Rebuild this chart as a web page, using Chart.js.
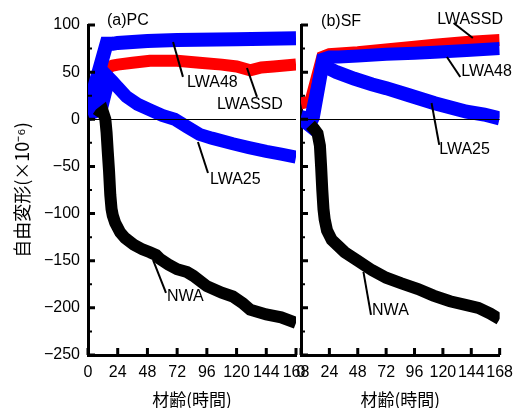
<!DOCTYPE html>
<html>
<head>
<meta charset="utf-8">
<script src="https://cdn.jsdelivr.net/npm/chart.js@4.4.0/dist/chart.umd.min.js"></script>
<style>
  html, body { margin: 0; padding: 0; background: #fff; }
  #wrap { position: relative; width: 521px; height: 408px; }
  #wrap canvas { position: absolute; left: 0; top: 0; }
</style>
</head>
<body>
<div id="wrap">
  <canvas id="pc" width="521" height="408"></canvas>
  <canvas id="sf" width="521" height="408"></canvas>
</div>
<script>
// ---- axis ticks ----
const X_TICKS = [0, 24, 48, 72, 96, 120, 144, 168];
const Y_TICKS = [-250, -200, -150, -100, -50, 0, 50, 100];
const Y_MINOR = [-225, -175, -125, -75, -25, 25, 75];

// ---- (a)PC ----
const pcNwaHours   = [8, 10, 12, 14, 15, 16, 17, 18, 19, 20, 22, 26, 30, 37, 44, 50, 55, 58, 65, 72, 80, 85, 96, 108, 117, 125, 131, 144, 156, 168];
const pcNwa        = [2, 6, 8, 0, -14, -35, -55, -80, -95, -102, -110, -120, -126, -133, -138, -141, -144, -148, -154, -159, -162, -166, -177, -184, -188, -195, -202, -207, -210, -216];
const pcLwa25Hours = [0, 6, 11, 14, 17, 20, 24, 31, 40, 50, 60, 70, 80, 90, 100, 117, 130, 144, 156, 168];
const pcLwa25      = [5, 8, 12, 28, 44, 40, 34, 24, 16, 10, 4, 0, -8, -16, -20, -26, -30, -34, -37, -40];
const pcLwa48Hours = [0, 15, 20, 24, 48, 72, 120, 168];
const pcLwa48      = [10, 80, 80, 81, 83, 84, 85, 86];
const pcSsdHours   = [11, 14, 16, 20, 24, 36, 50, 72, 90, 108, 120, 131, 140, 150, 168];
const pcSsd        = [25, 45, 55, 57, 58, 60, 62, 62, 60, 58, 56, 52, 55, 56, 58];

// ---- (b)SF ----
const sfNwaHours   = [8, 11, 14, 16, 17, 18, 19, 20, 22, 26, 37, 48, 60, 72, 85, 99, 112, 126, 140, 150, 160, 168];
const sfNwa        = [-6, -10, -15, -28, -50, -75, -95, -106, -118, -128, -141, -150, -160, -168, -174, -180, -187, -193, -197, -200, -206, -212];
const sfLwa25Hours = [0, 4, 7, 10, 18, 22, 30, 45, 60, 72, 90, 113, 140, 155, 168];
const sfLwa25      = [3, -3, -6, 2, 58, 55, 50, 43, 37, 33, 26, 17, 8, 5, 1];
const sfLwa48Hours = [0, 6, 9, 19, 24, 32, 48, 72, 96, 113, 140, 168];
const sfLwa48      = [3, 1, 5, 64, 66, 66, 67, 69, 70, 71, 73, 75];
const sfSsdHours   = [0, 8, 18, 24, 48, 72, 96, 113, 140, 168];
const sfSsd        = [17, 19, 66, 69, 71, 74, 77, 79, 82, 84];

const BLUE = '#0000FF', RED = '#FF0000', BLACK = '#000000';
const FONT = '"Liberation Sans", Arial, sans-serif';
const JP_FONT = '"Noto Sans CJK JP", sans-serif';

Chart.defaults.font.family = FONT;
Chart.defaults.font.size = 16;
Chart.defaults.color = '#000';

const toXY = (hours, vals) => hours.map((h, i) => ({ x: h, y: vals[i] }));
const fmtY = v => (v < 0 ? '\u2212' + Math.abs(v) : String(v));

// inward tick marks + zero line
const innerTicks = {
  id: 'innerTicks',
  afterDatasetsDraw(chart) {
    const { ctx, chartArea: a, scales: { x, y } } = chart;
    ctx.save();
    ctx.strokeStyle = '#000';
    ctx.lineWidth = 1;
    ctx.beginPath();
    const z = Math.round(y.getPixelForValue(0)) + 0.5;
    ctx.moveTo(a.left, z);
    ctx.lineTo(a.right, z);
    ctx.stroke();

    ctx.lineWidth = 3;
    ctx.beginPath();
    Y_TICKS.forEach(v => { const p = y.getPixelForValue(v); ctx.moveTo(a.left, p); ctx.lineTo(a.left + 7, p); });
    X_TICKS.forEach(v => { const p = x.getPixelForValue(v); ctx.moveTo(p, a.bottom); ctx.lineTo(p, a.bottom - 7); });
    ctx.stroke();
    ctx.lineWidth = 2;
    ctx.beginPath();
    Y_MINOR.forEach(v => { const p = y.getPixelForValue(v); ctx.moveTo(a.left, p); ctx.lineTo(a.left + 4, p); });
    ctx.stroke();
    ctx.restore();
  },
};

// series names with leader lines, placed in data units
const leaderLabels = {
  id: 'leaderLabels',
  afterDraw(chart, args, opts) {
    const { ctx, scales: { x, y } } = chart;
    ctx.save();
    ctx.font = '16px ' + FONT;
    ctx.fillStyle = '#000';
    ctx.strokeStyle = '#000';
    ctx.lineWidth = 2;
    ctx.textBaseline = 'middle';
    (opts.items || []).forEach(l => {
      if (l.from) {
        ctx.beginPath();
        ctx.moveTo(x.getPixelForValue(l.from[0]), y.getPixelForValue(l.from[1]));
        ctx.lineTo(x.getPixelForValue(l.to[0]), y.getPixelForValue(l.to[1]));
        ctx.stroke();
      }
      ctx.fillText(l.text, x.getPixelForValue(l.x), y.getPixelForValue(l.y));
    });
    ctx.restore();
  },
};

function series(label, hours, vals, color, width) {
  return {
    label, data: toXY(hours, vals),
    borderColor: color, backgroundColor: color,
    borderWidth: width, pointRadius: 0, tension: 0, fill: false,
  };
}

function makePanel(id, datasets, labels, left) {
  return new Chart(document.getElementById(id), {
    type: 'line',
    data: { datasets },
    plugins: [innerTicks, leaderLabels],
    options: {
      responsive: false,
      devicePixelRatio: 1,
      animation: false,
      events: [],
      layout: { padding: left ? { left: 0, top: 25, right: 225, bottom: 0 } : { left: 0, top: 25, right: 13, bottom: 0 } },
      plugins: {
        legend: { display: false },
        tooltip: { enabled: false },
        leaderLabels: { items: labels },
      },
      scales: {
        x: {
          type: 'linear', min: 0, max: 168,
          grid: { display: false, drawTicks: false },
          border: { display: true, color: '#000', width: 3 },
          ticks: { stepSize: 24, autoSkip: false, maxRotation: 0, minRotation: 0, padding: 8, color: '#000', font: { size: 16 } },
          title: { display: true, text: '材齢(時間)', color: '#000', font: { family: JP_FONT, size: 17, lineHeight: 1 }, padding: { top: 0, bottom: 0 } },
          afterFit: s => { s.height = 53; },
        },
        y: {
          min: -250, max: 100,
          grid: { display: false, drawTicks: false },
          border: { display: true, color: '#000', width: 3 },
          ticks: { display: left, stepSize: 50, padding: 8, color: '#000', font: { size: 16 }, callback: fmtY },
          title: { display: left, text: '自由変形(×10⁻⁶)', color: '#000', font: { family: JP_FONT, size: 18 }, padding: { top: 11, bottom: 0 } },
          afterFit: s => { s.width = left ? 88 : 301; },
        },
      },
    },
  });
}

makePanel('pc', [
  series('NWA', pcNwaHours, pcNwa, BLACK, 12),
  series('LWA25', pcLwa25Hours, pcLwa25, BLUE, 13),
  series('LWA48', pcLwa48Hours, pcLwa48, BLUE, 14),
  series('LWASSD', pcSsdHours, pcSsd, RED, 12),
], [
  { text: '(a)PC', x: 15.3, y: 104.3 },
  { text: 'LWA48', x: 80, y: 38.5, from: [68.7, 82], to: [76.7, 45] },
  { text: 'LWASSD', x: 104.2, y: 15.2, from: [128.4, 54.4], to: [136.5, 23.7] },
  { text: 'LWA25', x: 98.5, y: -64.2, from: [88.8, -24.1], to: [96.9, -57] },
  { text: 'NWA', x: 63.8, y: -188.4, from: [52.5, -149.1], to: [63, -184.1] },
], true);

makePanel('sf', [
  series('NWA', sfNwaHours, sfNwa, BLACK, 12),
  series('LWA25', sfLwa25Hours, sfLwa25, BLUE, 14),
  series('LWA48', sfLwa48Hours, sfLwa48, BLUE, 13),
  series('LWASSD', sfSsdHours, sfSsd, RED, 12),
], [
  { text: '(b)SF', x: 17, y: 103.2 },
  { text: 'LWASSD', x: 115.2, y: 105.3, from: [129, 102.1], to: [145.3, 86.2] },
  { text: 'LWA48', x: 135.5, y: 50.2, from: [123.4, 66.1], to: [134.7, 44.9] },
  { text: 'LWA25', x: 116.9, y: -32.6, from: [110.4, 17.3], to: [116.9, -27.2] },
  { text: 'NWA', x: 60.1, y: -203.3, from: [52.8, -161.9], to: [59.2, -207.5] },
], false);
</script>
</body>
</html>
